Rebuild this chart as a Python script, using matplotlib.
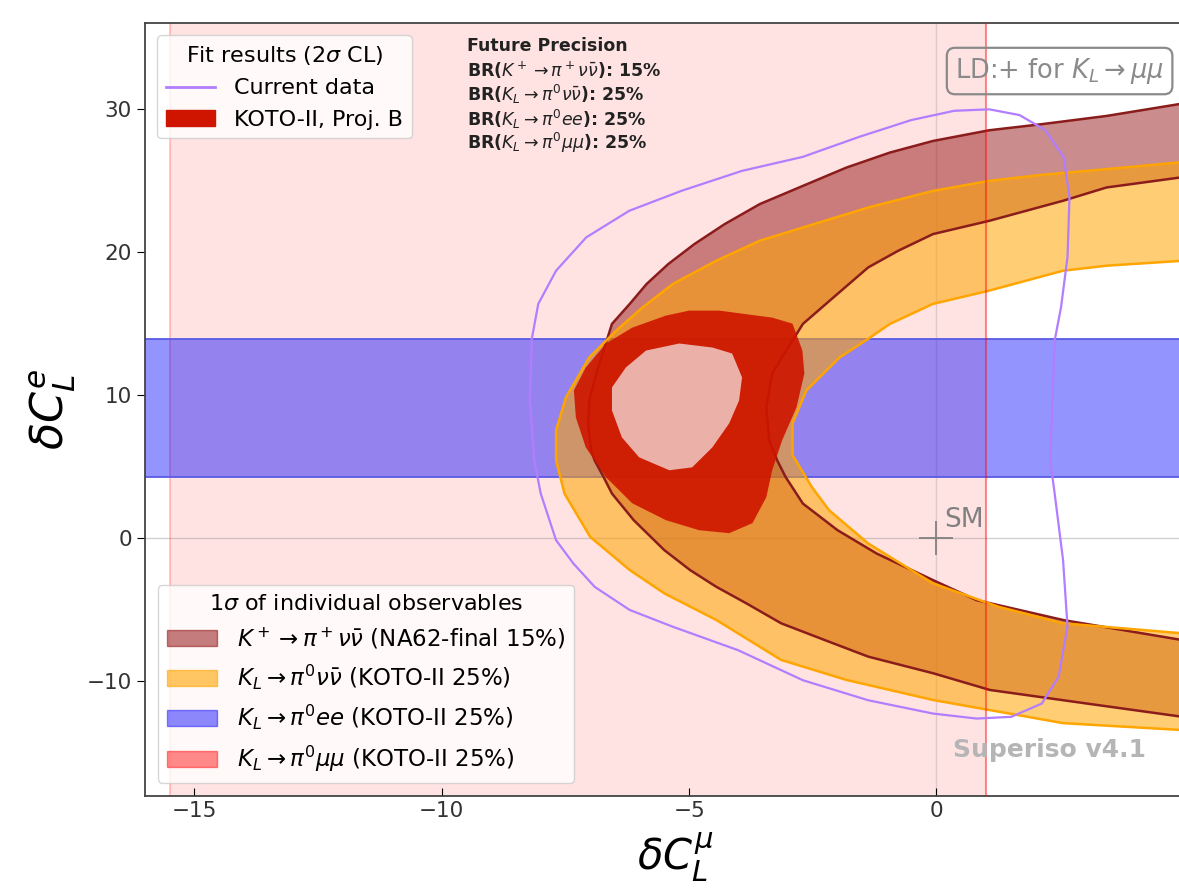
import matplotlib.pyplot as plt
from matplotlib.patches import Patch
from matplotlib.lines import Line2D

# K+ -> pi+ nu nubar band (NA62), outer and inner edge
kp_out_x = [5.0, 3.44, 2.12, 1.07, -0.07, -0.94, -1.82, -2.70, -3.57, -4.28, -4.89, -5.42,
            -5.86, -6.20, -6.56, -6.86, -7.02, -7.04, -6.98, -6.91, -6.73, -6.56, -6.12,
            -5.50, -4.98, -4.45, -3.84, -3.14, -2.26, -1.38, -0.07, 1.08, 3.00, 5.0]
kp_out_y = [30.40, 29.52, 28.94, 28.52, 27.77, 26.96, 25.91, 24.63, 23.36, 21.96, 20.57, 19.17,
            17.77, 16.38, 14.98, 11.70, 9.63, 7.89, 6.14, 5.44, 4.28, 3.12, 1.26,
            -0.84, -2.23, -3.40, -4.56, -5.95, -7.12, -8.28, -9.44, -10.61, -11.54, -12.50]
kp_in_x = [5.0, 3.44, 2.56, 1.07, -0.07, -0.77, -1.38, -2.08, -2.70, -3.04, -3.32, -3.44,
           -3.38, -3.22, -3.05, -2.70, -2.00, -1.21, -0.07, 0.81, 2.56, 5.0]
kp_in_y = [25.25, 24.52, 23.59, 22.19, 21.26, 20.10, 18.93, 16.84, 14.98, 13.10, 11.51, 9.14,
           6.84, 5.44, 4.28, 2.42, 0.56, -1.07, -2.93, -4.33, -5.72, -7.14]

# KL -> pi0 nu nubar band (KOTO-II)
kl_out_x = [5.0, 3.44, 2.12, 1.07, -0.07, -1.38, -2.70, -3.57, -4.45, -5.33, -5.94, -6.47,
            -7.02, -7.49, -7.69, -7.69, -7.52, -7.00, -6.20, -5.50, -4.45, -3.14, -1.82,
            -0.07, 2.56, 5.0]
kl_out_y = [26.30, 25.80, 25.40, 24.98, 24.28, 23.12, 21.72, 20.80, 19.40, 17.77, 16.14, 14.52,
            12.63, 9.84, 7.54, 5.44, 3.12, 0.09, -2.23, -3.86, -5.72, -8.51, -9.91,
            -11.31, -12.93, -13.42]
kl_in_x = [5.0, 3.44, 2.56, 1.07, -0.07, -0.94, -1.38, -1.96, -2.63, -2.91, -2.91, -2.52,
           -2.17, -1.38, -0.07, 1.25, 2.56, 5.0]
kl_in_y = [19.40, 19.05, 18.70, 17.31, 16.38, 14.98, 13.94, 12.63, 10.33, 8.03, 5.80, 3.58,
           1.95, -0.37, -3.16, -4.79, -5.95, -6.66]

# KL -> pi0 ee band and KL -> pi0 mu mu band
ee_lo, ee_hi = 4.3, 13.9
mumu_lo, mumu_hi = -15.5, 1.0

# current data, 2 sigma contour
cur_x = [-8.18, -8.05, -7.69, -7.08, -6.21, -5.15, -3.93, -2.70, -1.56, -0.51, 0.36, 1.07,
         1.68, 2.20, 2.57, 2.69, 2.65, 2.52, 2.39, 2.30, 2.39, 2.56, 2.65, 2.47, 2.13, 1.51,
         0.81, -0.07, -1.38, -2.70, -4.01, -5.33, -6.20, -6.91, -7.34, -7.69, -8.00, -8.13,
         -8.22, -8.18]
cur_y = [13.94, 16.38, 18.70, 21.03, 22.89, 24.29, 25.68, 26.66, 28.06, 29.23, 29.88, 29.98,
         29.58, 28.53, 26.66, 23.87, 19.67, 16.17, 13.82, 5.44, 3.12, -1.54, -6.19, -9.69,
         -11.56, -12.49, -12.61, -12.26, -11.33, -9.93, -7.83, -6.19, -5.02, -3.40, -1.77,
         -0.14, 3.12, 5.44, 9.63, 13.94]

# KOTO-II projection B, 2 sigma region and its inner part
proj_x = [-4.39, -3.32, -2.91, -2.71, -2.67, -2.83, -3.12, -3.32, -3.44, -3.72, -4.19, -4.80,
          -5.47, -6.15, -6.68, -7.09, -7.29, -7.33, -7.09, -6.68, -6.15, -5.47, -5.00]
proj_y = [15.91, 15.42, 15.00, 13.12, 11.51, 9.14, 6.84, 4.75, 2.86, 1.05, 0.35, 0.56,
          1.26, 2.44, 4.26, 6.35, 8.44, 10.33, 11.93, 13.61, 14.72, 15.56, 15.91]
core_x = [-5.20, -4.53, -4.13, -3.93, -3.99, -4.19, -4.53, -4.94, -5.40, -6.01, -6.36, -6.56,
          -6.56, -6.28, -5.87]
core_y = [13.61, 13.33, 12.91, 11.24, 9.63, 8.03, 6.35, 4.95, 4.75, 5.65, 7.05, 8.93,
          10.54, 11.93, 13.12]

precision_lines = ["Future Precision",
                   r"BR($K^+\to\pi^+\nu\bar\nu$): 15%",
                   r"BR($K_L\to\pi^0\nu\bar\nu$): 25%",
                   r"BR($K_L\to\pi^0 ee$): 25%",
                   r"BR($K_L\to\pi^0\mu\mu$): 25%"]

fig = plt.figure(figsize=(11.79, 8.94), dpi=100)
ax = fig.add_axes([0.123, 0.110, 0.923, 0.864])
ax.set_xlim(-16, 6)
ax.set_ylim(-18, 36)

# mu mu band (vertical) and ee band (horizontal)
ax.axvspan(mumu_lo, mumu_hi, color="red", alpha=0.11, lw=0, zorder=0)
ax.axvline(mumu_lo, color="red", alpha=0.25, lw=1.2, zorder=0.5)
ax.axvline(mumu_hi, color="red", alpha=0.45, lw=1.5, zorder=3)
ax.axhspan(ee_lo, ee_hi, color="blue", alpha=0.42, lw=0, zorder=1)
ax.axhline(ee_lo, color="#5a5ae6", lw=1.3, zorder=1.5)
ax.axhline(ee_hi, color="#5a5ae6", lw=1.3, zorder=1.5)

ax.axhline(0, color="gray", alpha=0.35, lw=1, zorder=0.6)
ax.axvline(0, color="gray", alpha=0.25, lw=1, zorder=0.6)


def band(ox, oy, ix, iy, color, alpha, edge):
    ax.fill(list(ox) + ix[::-1], list(oy) + iy[::-1], color=color, alpha=alpha, lw=0, zorder=2)
    ax.plot(ox, oy, color=edge, lw=1.8, zorder=2.5, solid_joinstyle="round")
    ax.plot(ix, iy, color=edge, lw=1.8, zorder=2.5, solid_joinstyle="round")


band(kp_out_x, kp_out_y, kp_in_x, kp_in_y, "darkred", 0.45, "#8b1c1c")
band(kl_out_x, kl_out_y, kl_in_x, kl_in_y, "orange", 0.55, "orange")

ax.plot(cur_x, cur_y, color="#b27dff", lw=1.6, zorder=3, solid_joinstyle="round")

ax.fill(proj_x, proj_y, color="#cf1500", alpha=0.9, lw=0, zorder=4)
ax.fill(core_x, core_y, color="#ebb0a8", lw=0, zorder=4.5)

# SM point
ax.plot(0, 0, marker="+", ms=24, mew=1.3, color="gray", zorder=5)
ax.text(0.15, 0.75, "SM", color="gray", fontsize=19, zorder=5)

y0 = 34.4
for i, line in enumerate(precision_lines):
    ax.text(-9.5, y0 - 1.7 * i, line, fontsize=12.5, fontweight="bold",
            va="center", ha="left", color="#222222")
ax.text(2.49, 32.66, r"LD:+ for $K_L\to\mu\mu$", fontsize=18.5, color="#8a8a8a",
        ha="center", va="center",
        bbox=dict(boxstyle="round,pad=0.32", fc="none", ec="#8a8a8a", lw=1.6))
ax.text(2.28, -14.8, "Superiso v4.1", fontsize=18, fontweight="bold", color="#b5b5b5",
        ha="center", va="center", zorder=5)

h1 = [Line2D([], [], color="#b27dff", lw=2),
      Patch(color="#cf1500")]
leg1 = ax.legend(h1, ["Current data", "KOTO-II, Proj. B"], title=r"Fit results (2$\sigma$ CL)",
                 loc="upper left", fontsize=16, title_fontsize=16, borderaxespad=0.55,
                 handlelength=2.2, handletextpad=0.85)
ax.add_artist(leg1)

h2 = [Patch(color="darkred", alpha=0.5), Patch(color="orange", alpha=0.6),
      Patch(color="blue", alpha=0.45), Patch(color="red", alpha=0.45)]
l2 = [r"$K^+\to\pi^+\nu\bar\nu$ (NA62-final 15%)",
      r"$K_L\to\pi^0\nu\bar\nu$ (KOTO-II 25%)",
      r"$K_L\to\pi^0ee$ (KOTO-II 25%)",
      r"$K_L\to\pi^0\mu\mu$ (KOTO-II 25%)"]
ax.legend(h2, l2, title=r"1$\sigma$ of individual observables", loc="lower left",
          fontsize=16.5, title_fontsize=16, borderaxespad=0.55,
          handlelength=2.2, handletextpad=0.85)

ax.set_xticks([-15, -10, -5, 0])
ax.set_yticks([-10, 0, 10, 20, 30])
ax.tick_params(axis="x", direction="in", labelsize=15.5, length=6, labelcolor="#333333")
ax.tick_params(axis="y", direction="out", labelsize=15.5, length=6, labelcolor="#333333")
for s in ax.spines.values():
    s.set_color("#444444")
    s.set_linewidth(1.3)

ax.set_ylabel(r"$\delta C_L^e$", fontsize=32, labelpad=6)
ax.set_xlabel(r"$\delta C_L^\mu$", fontsize=30)
ax.xaxis.set_label_coords(0.487, -0.045)

fig.savefig("out.png", dpi=100)
